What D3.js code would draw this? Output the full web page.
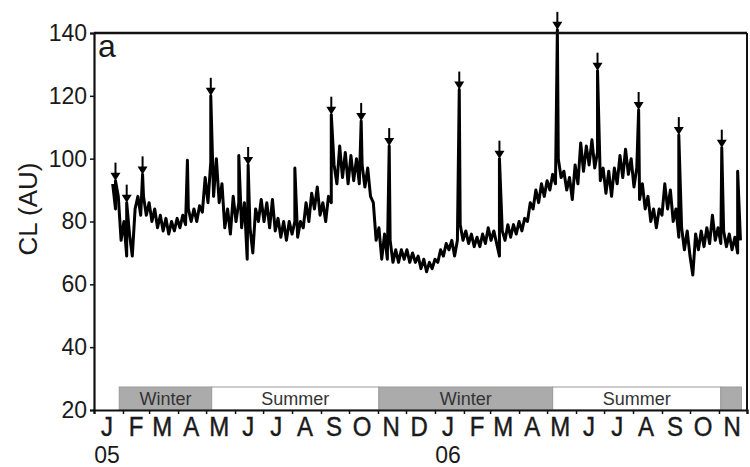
<!DOCTYPE html>
<html>
<head>
<meta charset="utf-8">
<script src="https://cdn.jsdelivr.net/npm/d3@7"></script>
<style>
  html, body { margin: 0; padding: 0; background: #fff; }
  svg { display: block; font-family: Arial, "Liberation Sans", Helvetica, sans-serif; }
</style>
</head>
<body>
<svg id="chart" width="750" height="467"></svg>
<script>
// CL record, sampled every 3 days starting 21 Jan 2005
const seriesStart = "2005-01-21";
const sampleStepDays = 3;
const clValues = [
  92, 84, 88, 74, 80, 69, 76, 69, 84, 88,
  82, 88, 82, 86, 80, 84, 78, 82, 77, 81,
  76, 80, 77, 81, 78, 82, 79, 84, 80, 84,
  80, 85, 83, 94, 86, 99, 88, 100, 86, 92,
  78, 84, 76, 88, 80, 86, 78, 86, 68, 78,
  70, 84, 80, 87, 80, 86, 78, 87, 77, 81,
  75, 80, 74, 80, 76, 80, 75, 80, 78, 86,
  80, 89, 84, 91, 82, 86, 80, 88, 86, 98,
  92, 104, 94, 102, 92, 101, 93, 100, 92, 98,
  91, 97, 88, 86, 74, 78, 68, 76, 68, 74,
  67, 71, 67, 71, 68, 71, 67, 70, 67, 69,
  65, 68, 64, 67, 65, 68, 67, 71, 69, 73,
  71, 74, 69, 74, 79, 74, 77, 73, 76, 72,
  75, 72, 76, 73, 78, 74, 77, 73, 69, 77,
  74, 79, 75, 79, 76, 80, 77, 81, 80, 86,
  84, 90, 86, 92, 88, 93, 90, 95, 92, 100,
  94, 96, 90, 94, 87, 98, 92, 105, 96, 104,
  98, 106, 97, 102, 93, 97, 89, 96, 88, 97,
  92, 101, 94, 103, 95, 100, 91, 97, 87, 92,
  84, 88, 80, 84, 78, 84, 82, 92, 84, 90,
  80, 84, 75, 78, 71, 77, 69, 63, 76, 71,
  77, 72, 78, 73, 82, 74, 78, 73, 77, 72,
  76, 71, 75, 70, 74
];

// Single-day peaks; the marked ones carry an arrow
const spikeDates = [
  "2005-01-24", "2005-02-05", "2005-02-22", "2005-04-11", "2005-05-06",
  "2005-06-05", "2005-06-15", "2005-08-04", "2005-09-12", "2005-10-14",
  "2005-11-13", "2006-01-27", "2006-03-11", "2006-05-12", "2006-06-24",
  "2006-08-07", "2006-09-19", "2006-11-04", "2006-11-21"
];
const spikeValues = [
  93, 86, 95, 99.5, 120,
  101, 98, 97, 114, 112,
  104, 122, 100, 141, 128,
  115.5, 107.5, 103.5, 96
];
const spikeArrow = [
  true, true, true, false, true,
  false, true, false, true, true,
  true, true, true, true, true,
  true, true, true, false
];

// Season bands along the bottom
const seasonStarts = ["2005-01-28", "2005-05-07", "2005-11-02", "2006-05-07", "2006-11-03"];
const seasonEnds   = ["2005-05-07", "2005-11-02", "2006-05-07", "2006-11-03", "2006-11-25"];
const seasonNames  = ["Winter", "Summer", "Winter", "Summer", ""];
const seasonIsWinter = [true, false, true, false, true];

// Axis labels
const monthLetters = ["J","F","M","A","M","J","J","A","S","O","N","D",
                      "J","F","M","A","M","J","J","A","S","O","N"];
const yearLabels = [["2005-01-15", "05"], ["2006-01-15", "06"]];
const yTicks = [20, 40, 60, 80, 100, 120, 140];

const parse = d3.utcParse("%Y-%m-%d");
const svg = d3.select("#chart");

const plotLeft = 94, plotRight = 747, plotTop = 33, plotBottom = 410;
const x = d3.scaleUtc()
  .domain([parse("2005-01-01"), parse("2006-12-01")])
  .range([plotLeft, plotRight]);
const y = d3.scaleLinear().domain([20, 140]).range([plotBottom, plotTop]);

// Build the full series: regular samples plus the single-day peaks
const t0 = parse(seriesStart);
const points = clValues.map((v, i) => ({ date: d3.utcDay.offset(t0, i * sampleStepDays), value: v }));
spikeDates.forEach((d, i) => points.push({ date: parse(d), value: spikeValues[i] }));
points.sort((a, b) => a.date - b.date);

// Season bar
const barTop = 387;
const seasons = seasonStarts.map((s, i) => ({
  start: parse(s), end: parse(seasonEnds[i]), name: seasonNames[i], winter: seasonIsWinter[i]
}));
svg.append("g").selectAll("rect").data(seasons).join("rect")
  .attr("x", d => x(d.start))
  .attr("y", barTop)
  .attr("width", d => x(d.end) - x(d.start))
  .attr("height", plotBottom - barTop)
  .attr("fill", d => d.winter ? "#ababab" : "#ffffff")
  .attr("stroke", "#9a9a9a")
  .attr("stroke-width", 1);
svg.append("g").selectAll("text").data(seasons.filter(d => d.name)).join("text")
  .attr("x", d => (x(d.start) + x(d.end)) / 2)
  .attr("y", 405)
  .attr("text-anchor", "middle")
  .attr("font-size", 18)
  .attr("fill", "#333")
  .text(d => d.name);

// CL line
const line = d3.line().x(d => x(d.date)).y(d => y(d.value));
svg.append("path")
  .datum(points)
  .attr("d", line)
  .attr("fill", "none")
  .attr("stroke", "#000")
  .attr("stroke-width", 3)
  .attr("stroke-linejoin", "round");

// Arrows on the marked peaks
const arrows = spikeDates.map((d, i) => ({ date: parse(d), value: spikeValues[i], on: spikeArrow[i] }))
  .filter(d => d.on);
const ag = svg.append("g").selectAll("g").data(arrows).join("g")
  .attr("transform", d => `translate(${x(d.date)},${y(d.value)})`);
ag.append("line")
  .attr("x1", 0).attr("x2", 0).attr("y1", -18).attr("y2", -5)
  .attr("stroke", "#000").attr("stroke-width", 2);
ag.append("path")
  .attr("d", "M-5,-8 L5,-8 L0,0 Z")
  .attr("fill", "#000");

// Frame: top and right edges
svg.append("line").attr("x1", plotLeft).attr("x2", plotRight).attr("y1", plotTop).attr("y2", plotTop)
  .attr("stroke", "#111").attr("stroke-width", 2.5);
svg.append("line").attr("x1", plotRight).attr("x2", plotRight).attr("y1", plotTop).attr("y2", plotBottom)
  .attr("stroke", "#111").attr("stroke-width", 2);

// Left axis
const yAxis = svg.append("g")
  .attr("transform", `translate(${plotLeft},0)`)
  .call(d3.axisLeft(y).tickValues(yTicks).tickSize(4).tickPadding(3));
yAxis.select(".domain").attr("stroke", "#111").attr("stroke-width", 2.2);
yAxis.selectAll(".tick line").attr("stroke", "#111").attr("stroke-width", 1.5);
yAxis.selectAll(".tick text")
  .attr("font-size", 23).attr("fill", "#1a1a1a")
  .attr("font-family", "Arial, 'Liberation Sans', sans-serif");

// Bottom axis: month ticks
const months = d3.utcMonths(parse("2005-01-01"), parse("2006-12-02"));
const xAxis = svg.append("g")
  .attr("transform", `translate(0,${plotBottom})`)
  .call(d3.axisBottom(x).tickValues(months).tickSize(4).tickFormat(""));
xAxis.select(".domain").attr("stroke", "#111").attr("stroke-width", 2.2);
xAxis.selectAll(".tick line").attr("stroke", "#111").attr("stroke-width", 1.5);

// Month letters under the middle of each month
const monthMid = months.slice(0, monthLetters.length).map(m => d3.utcDay.offset(m, 14));
svg.append("g").selectAll("g").data(monthMid).join("g")
  .attr("transform", (d, i) => `translate(${x(d)},436) scale(1,1.15)`)
  .append("text")
  .attr("text-anchor", "middle")
  .attr("font-size", 24)
  .attr("fill", "#1a1a1a")
  .attr("stroke", "#1a1a1a")
  .attr("stroke-width", 0.4)
  .text((d, i) => monthLetters[i]);

// Year labels
svg.append("g").selectAll("text").data(yearLabels).join("text")
  .attr("x", d => x(parse(d[0])))
  .attr("y", 463)
  .attr("text-anchor", "middle")
  .attr("font-size", 23)
  .attr("fill", "#1a1a1a")
  .text(d => d[1]);

// Axis title
svg.append("text")
  .attr("transform", "translate(37,209) rotate(-90)")
  .attr("text-anchor", "middle")
  .attr("font-size", 26)
  .attr("fill", "#1a1a1a")
  .text("CL (AU)");

// Panel letter
svg.append("text")
  .attr("x", 98).attr("y", 57)
  .attr("font-size", 32)
  .attr("fill", "#1a1a1a")
  .text("a");
</script>
</body>
</html>
